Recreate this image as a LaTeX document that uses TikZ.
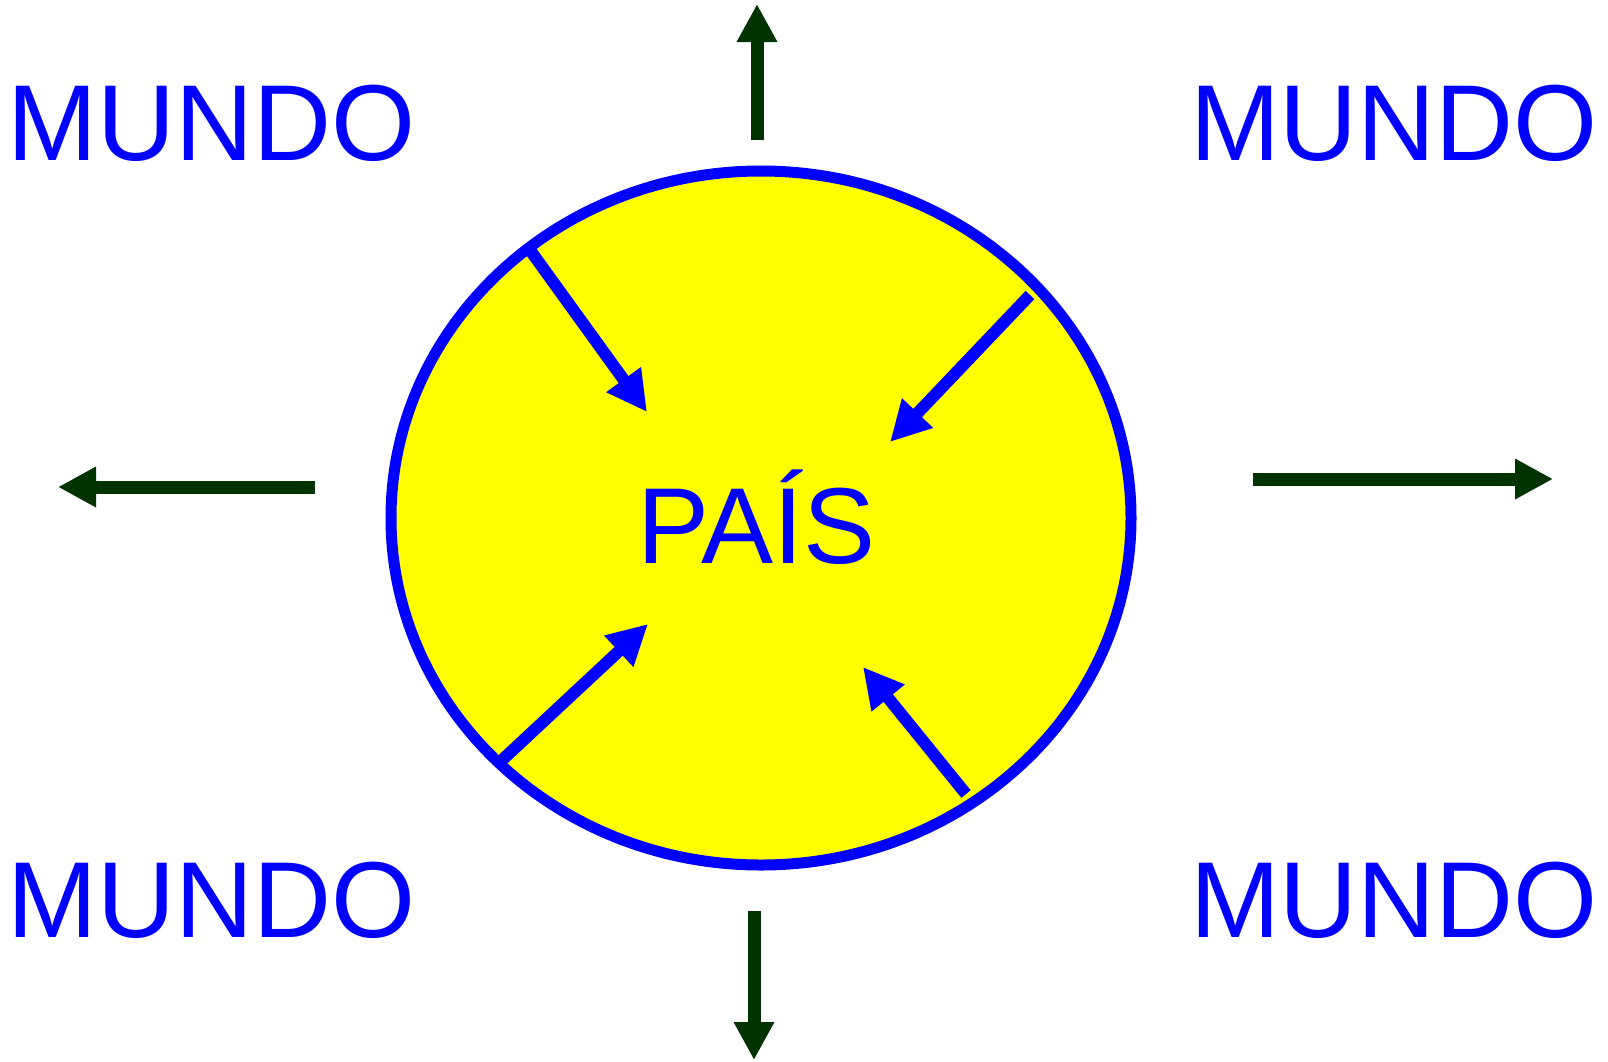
\documentclass[tikz,border=0pt]{standalone}
\usepackage{fontspec}
\setmainfont{Liberation Sans}
\usetikzlibrary{arrows.meta,shapes.geometric}
\definecolor{dkgreen}{RGB}{0,51,0}
\definecolor{pblue}{RGB}{0,0,255}
\definecolor{pyellow}{RGB}{255,255,0}
\begin{document}
\begin{tikzpicture}[x=1pt,y=-1pt,
  outarrow/.style={draw=dkgreen, line width=13pt, -{Triangle[length=38pt 0 0,width=38pt 0 0]}},
  inarrow/.style={draw=pblue, line width=12pt, -{Triangle[length=40pt 0 0,width=40pt 0 0]}},
  bigtext/.style={text=pblue, inner sep=0pt, outer sep=0pt, font=\fontsize{108}{120}\selectfont}]
\useasboundingbox (0,0) rectangle (1608,1061);
% country
\node[ellipse, draw=pblue, line width=11pt, fill=pyellow, minimum width=740pt, minimum height=694pt, inner sep=0pt, outer sep=0pt] (pais) at (761,518) {};
\node[bigtext, anchor=base west] (paistxt) at (637,563) {PAÍS};
% world labels
\node[bigtext, anchor=base west] (mundoTL) at (8,160) {MUNDO};
\node[bigtext, anchor=base west] (mundoTR) at (1190,160) {MUNDO};
\node[bigtext, anchor=base west] (mundoBL) at (8,937) {MUNDO};
\node[bigtext, anchor=base west] (mundoBR) at (1190,937) {MUNDO};
% outward arrows
\coordinate (upS) at (757,140);  \coordinate (upT) at (757,4);
\coordinate (dnS) at (754,911);  \coordinate (dnT) at (754,1060);
\coordinate (lfS) at (315,487);  \coordinate (lfT) at (58,487);
\coordinate (rtS) at (1253,479); \coordinate (rtT) at (1553,479);
\draw[outarrow] (upS) -- (upT);
\draw[outarrow] (dnS) -- (dnT);
\draw[outarrow] (lfS) -- (lfT);
\draw[outarrow] (rtS) -- (rtT);
% inward arrows
\coordinate (a1S) at (530,250);  \coordinate (a1T) at (647,412);
\coordinate (a2S) at (1030,295); \coordinate (a2T) at (890,442);
\coordinate (a3S) at (500,762);  \coordinate (a3T) at (648,624);
\coordinate (a4S) at (966,794);  \coordinate (a4T) at (863,667);
\draw[inarrow] (a1S) -- (a1T);
\draw[inarrow] (a2S) -- (a2T);
\draw[inarrow] (a3S) -- (a3T);
\draw[inarrow] (a4S) -- (a4T);
\end{tikzpicture}
\end{document}
